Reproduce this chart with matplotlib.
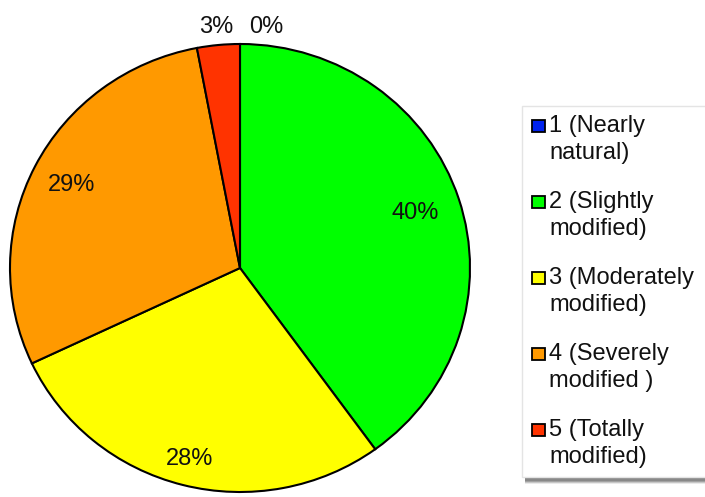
import matplotlib
matplotlib.use("Agg")
import matplotlib.pyplot as plt
import numpy as np
from matplotlib.patches import Rectangle

plt.rcParams['font.family'] = ['Liberation Sans', 'DejaVu Sans']

categories = ["1 (Nearly\nnatural)", "2 (Slightly\nmodified)", "3 (Moderately\nmodified)",
              "4 (Severely\nmodified )", "5 (Totally\nmodified)"]
values = [0, 40, 28, 29, 3]
colors = ["#0022ee", "#00ff00", "#ffff00", "#ff9900", "#ff3300"]
label_dist = [1.08, 0.80, 0.88, 0.82, 1.08]
label_shift = [6, 0, 0, 0, 0]  # degrees

W, H = 705, 497
fig = plt.figure(figsize=(W / 100, H / 100), dpi=100)
ax = fig.add_axes([10 / W, 5 / H, 460 / W, 448 / H])
wedges, _ = ax.pie(values, colors=colors, startangle=90, counterclock=False,
                   radius=1, wedgeprops=dict(edgecolor="black", linewidth=1.5))
ax.set_aspect("auto")
ax.set_xlim(-1, 1)
ax.set_ylim(-1, 1)
ax.axis("off")

for w, v, d, s in zip(wedges, values, label_dist, label_shift):
    ang = np.deg2rad((w.theta1 + w.theta2) / 2 - s)
    ax.text(d * np.cos(ang), d * np.sin(ang), f"{v}%", ha="center", va="center",
            fontsize=17, color="#111111", clip_on=False)

# legend (manual, first line aligned with the marker)
lx0, ly_top, lx1, ly_bot = 522, 106, 712, 477
for k, (off, a) in enumerate([(7, 0.15), (6, 0.3), (5, 0.45), (4, 0.6)]):
    fig.patches.append(Rectangle((lx0 + 3, H - ly_bot - off), lx1 - lx0, ly_bot - ly_top,
                                 transform=None, facecolor="#777777", edgecolor="none",
                                 alpha=a))
box = Rectangle((lx0, H - ly_bot), lx1 - lx0, ly_bot - ly_top, transform=None,
                facecolor="white", edgecolor="#e4e4e4", linewidth=1)
fig.patches.append(box)
for i, (lab, c) in enumerate(zip(categories, colors)):
    yb = 132 + 76 * i
    sq = Rectangle((532, H - yb), 12.5, 12.5, transform=None, facecolor=c,
                   edgecolor="black", linewidth=1.3)
    fig.patches.append(sq)
    for j, line in enumerate(lab.split("\n")):
        fig.text(549 / W, 1 - (yb + 27 * j) / H, line, ha="left", va="baseline",
                 fontsize=17, color="#111111")

fig.savefig("out.png", dpi=100)
